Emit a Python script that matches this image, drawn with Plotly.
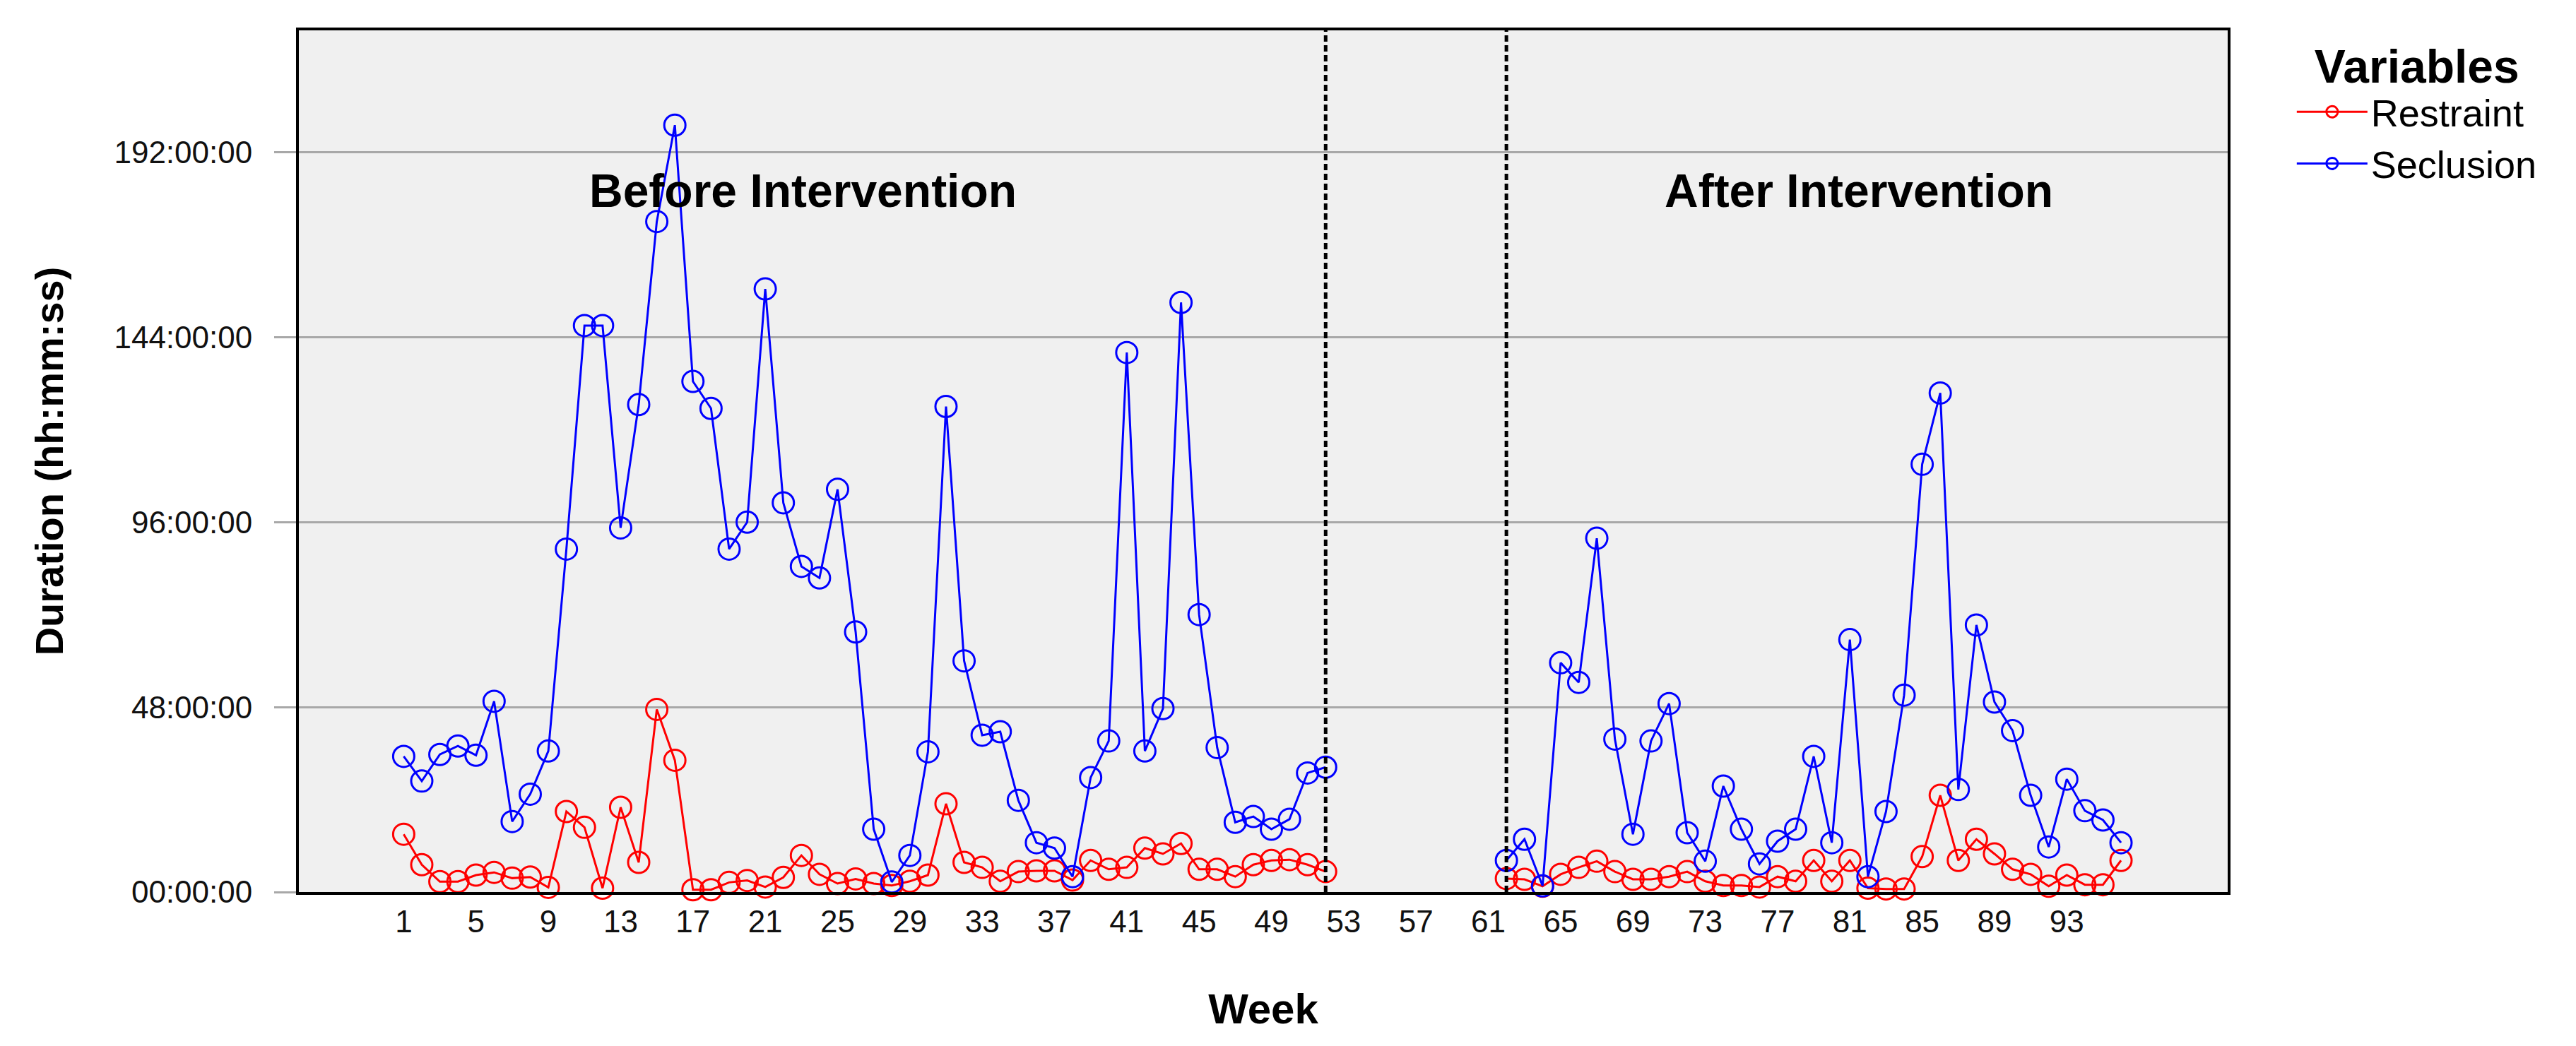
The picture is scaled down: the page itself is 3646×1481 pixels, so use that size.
import plotly.graph_objects as go

# ---- data (hours) ----
weeks_before = list(range(1, 53))
weeks_after = list(range(62, 97))

seclusion_before = [35.2, 28.8, 35.7, 37.9, 35.5, 49.5, 18.3, 25.4, 36.6, 89.0,
                    147.0, 147.0, 94.5, 126.5, 174.0, 199.0, 132.5, 125.5, 89.0, 96.0,
                    156.5, 101.0, 84.5, 81.5, 104.5, 67.5, 16.3, 2.6, 9.5, 36.4,
                    126.0, 60.0, 40.7, 41.6, 23.8, 12.8, 11.4, 4.0, 29.7, 39.2,
                    140.0, 36.6, 47.6, 153.0, 72.0, 37.5, 18.1, 19.6, 16.3, 18.9,
                    30.9, 32.4]
restraint_before = [15.0, 7.1, 2.7, 2.7, 4.4, 5.1, 3.6, 3.9, 1.2, 20.9,
                    16.8, 1.0, 22.0, 7.7, 47.4, 34.2, 0.6, 0.6, 2.5, 3.0,
                    1.3, 3.8, 9.5, 4.6, 2.2, 3.4, 2.2, 1.7, 2.8, 4.4,
                    22.9, 7.7, 6.4, 2.8, 5.3, 5.5, 5.5, 3.1, 8.2, 5.9,
                    6.4, 11.4, 9.9, 12.6, 5.9, 5.9, 4.0, 7.1, 8.2, 8.4,
                    7.1, 5.3]
seclusion_after = [8.2, 13.7, 1.6, 59.5, 54.4, 91.8, 39.7, 15.0, 39.2, 48.9,
                   15.4, 8.0, 27.5, 16.3, 7.3, 13.2, 16.3, 35.2, 12.8, 65.5,
                   4.0, 20.9, 51.1, 111.0, 129.5, 26.6, 69.3, 49.3, 41.9, 25.1,
                   11.7, 29.3, 21.1, 18.7, 12.8]
restraint_after = [3.5, 3.3, 1.5, 4.6, 6.4, 8.0, 5.3, 3.3, 3.3, 4.0,
                   5.3, 2.8, 1.7, 1.7, 1.3, 4.0, 2.8, 8.2, 2.8, 8.2,
                   1.0, 0.8, 0.8, 9.2, 25.1, 8.2, 13.7, 9.9, 5.9, 4.6,
                   1.5, 4.4, 1.9, 1.9, 8.2]

x_tick_vals = [1, 5, 9, 13, 17, 21, 25, 29, 33, 37, 41, 45, 49, 53, 57, 61,
               65, 69, 73, 77, 81, 85, 89, 93]
y_tick_vals = [0, 48, 96, 144, 192]
y_tick_text = ["00:00:00", "48:00:00", "96:00:00", "144:00:00", "192:00:00"]
phase_lines = [52, 62]
phase_labels = ["Before Intervention", "After Intervention"]
phase_label_x = [23.1, 81.5]

RED = "#ff0000"
BLUE = "#0000ff"

fig = go.Figure()

def add_series(x, y, name, color, show):
    fig.add_trace(go.Scatter(
        x=x, y=y, mode="lines+markers", name=name, legendgroup=name,
        showlegend=show, cliponaxis=False,
        line=dict(color=color, width=3),
        marker=dict(symbol="circle-open", size=30, color=color,
                    line=dict(width=3, color=color)),
    ))

add_series(weeks_before, restraint_before, "Restraint", RED, True)
add_series(weeks_after, restraint_after, "Restraint", RED, False)
add_series(weeks_before, seclusion_before, "Seclusion", BLUE, True)
add_series(weeks_after, seclusion_after, "Seclusion", BLUE, False)

for xv in phase_lines:
    fig.add_shape(type="line", xref="x", yref="paper", x0=xv, x1=xv, y0=0, y1=1,
                  line=dict(color="black", width=5, dash="9px,5px"))

for label, xv in zip(phase_labels, phase_label_x):
    fig.add_annotation(x=xv, y=182, xref="x", yref="y", text="<b>%s</b>" % label,
                       showarrow=False,
                       font=dict(family="Liberation Sans, Arial", size=66, color="black"))

fig.update_layout(
    width=3646, height=1481,
    margin=dict(l=415, r=501, t=35, b=226, autoexpand=False),
    paper_bgcolor="white", plot_bgcolor="#f0f0f0",
    font=dict(family="Liberation Sans, Arial", color="black"),
    showlegend=True,
    legend=dict(
        x=1.034, xanchor="left", y=1.01, yanchor="top",
        title=dict(text="<b>Variables</b>", side="top center",
                   font=dict(size=66, family="Liberation Sans, Arial")),
        font=dict(size=54, family="Liberation Sans Narrow, Liberation Sans, Arial"),
        itemwidth=100, bgcolor="rgba(0,0,0,0)", tracegroupgap=0,
    ),
    xaxis=dict(
        range=[-4.8, 101.9], tickmode="array", tickvals=x_tick_vals,
        ticks="", showgrid=False, zeroline=False,
        showline=True, linecolor="black", linewidth=4, mirror=True,
        tickfont=dict(size=44, color="#111"), ticklabelstandoff=0,
        title=dict(text="<b>Week</b>", font=dict(size=60), standoff=80),
    ),
    yaxis=dict(
        range=[0, 223.6], tickmode="array", tickvals=y_tick_vals, ticktext=y_tick_text,
        ticks="outside", ticklen=31, tickwidth=3, tickcolor="#a8a8a8",
        showgrid=True, gridcolor="#a8a8a8", gridwidth=3, zeroline=False,
        showline=True, linecolor="black", linewidth=4, mirror=True,
        tickfont=dict(size=44, color="#111"), ticklabelstandoff=22,
        title=dict(text="<b>Duration (hh:mm:ss)</b>", font=dict(size=56), standoff=55),
    ),
)

fig.write_html("out.html")
